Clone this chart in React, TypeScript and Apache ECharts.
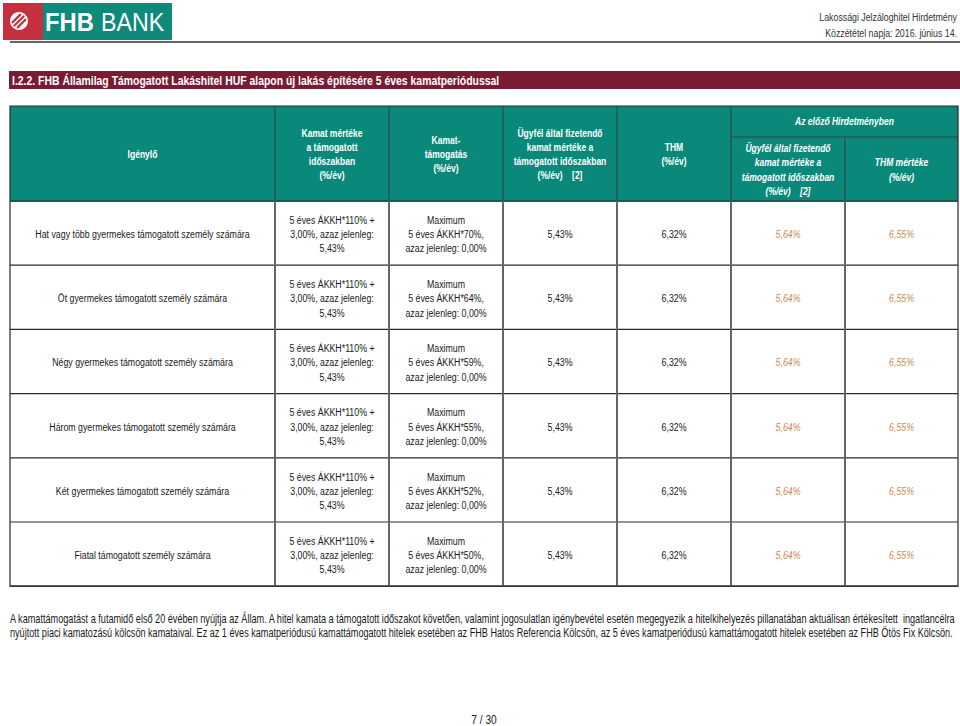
import React, { useEffect, useRef } from "react";
import * as echarts from "echarts";

// ---- data ----
const applicants = [
  "Hat vagy több gyermekes támogatott személy számára",
  "Öt gyermekes támogatott személy számára",
  "Négy gyermekes támogatott személy számára",
  "Három gyermekes támogatott személy számára",
  "Két gyermekes támogatott személy számára",
  "Fiatal támogatott személy számára",
];
const subsidyPercent = [70, 64, 59, 55, 52, 50];
const supportedRate = ["5,43%", "5,43%", "5,43%", "5,43%", "5,43%", "5,43%"];
const subsidyNow = ["0,00%", "0,00%", "0,00%", "0,00%", "0,00%", "0,00%"];
const clientRate = ["5,43%", "5,43%", "5,43%", "5,43%", "5,43%", "5,43%"];
const thm = ["6,32%", "6,32%", "6,32%", "6,32%", "6,32%", "6,32%"];
const prevClientRate = ["5,64%", "5,64%", "5,64%", "5,64%", "5,64%", "5,64%"];
const prevThm = ["6,55%", "6,55%", "6,55%", "6,55%", "6,55%", "6,55%"];

const headerTexts = [
  "Igénylő",
  "Kamat mértéke\na támogatott\nidőszakban\n(%/év)",
  "Kamat-\ntámogatás\n(%/év)",
  "Ügyfél által fizetendő\nkamat mértéke a\ntámogatott időszakban\n(%/év)    [2]",
  "THM\n(%/év)",
];
const prevGroupTitle = "Az előző Hirdetményben";
const prevHeaderTexts = [
  "Ügyfél által fizetendő\nkamat mértéke a\ntámogatott időszakban\n(%/év)    [2]",
  "THM mértéke\n(%/év)",
];
const titleText = "I.2.2. FHB Államilag Támogatott Lakáshitel HUF alapon új lakás építésére 5 éves kamatperiódussal";
const docTitle = "Lakossági Jelzáloghitel Hirdetmény";
const docDate = "Közzététel napja: 2016. június 14.";
const footnotes = [
  "A kamattámogatást a futamidő első 20 évében nyújtja az Állam. A hitel kamata a támogatott időszakot követően, valamint jogosulatlan igénybevétel esetén megegyezik a hitelkihelyezés pillanatában aktuálisan értékesített  ingatlancélra",
  "nyújtott piaci kamatozású kölcsön kamataival. Ez az 1 éves kamatperiódusú kamattámogatott hitelek esetében az FHB Hatos Referencia Kölcsön, az 5 éves kamatperiódusú kamattámogatott hitelek esetében az FHB Ötös Fix Kölcsön.",
];
const pageText = "7 / 30";

// ---- layout ----
const FONT = "'Liberation Sans', Arial, sans-serif";
const colX = [10, 275, 389, 503, 617, 731, 845, 958];
const headTop = 106;
const headBottom = 201;
const subLine = 137;
const rowH = 64.2;
const TEAL = "#0a897b";
const MAROON = "#7a1b34";
const ORANGE = "#c9874f";
const FS = 11.5;
const NARROW = 0.765;
const NARROW_BOLD = 0.74;

function measure(text: string, font: string) {
  const c = document.createElement("canvas").getContext("2d")!;
  c.font = font;
  return c.measureText(text).width;
}

function txt(text: string, x: number, y: number, opts: any = {}) {
  return {
    type: "text",
    silent: true,
    z: 10,
    x,
    y,
    scaleX: opts.scaleX ?? NARROW,
    style: {
      text,
      x: 0,
      y: 0,
      align: opts.align || "center",
      verticalAlign: "middle",
      fontFamily: FONT,
      fontSize: opts.fontSize || FS,
      fontWeight: opts.fontWeight || "normal",
      fontStyle: opts.fontStyle || "normal",
      fill: opts.fill || "#1a1a1a",
      lineHeight: opts.lineHeight || 14.3,
    },
  };
}

function line(x1: number, y1: number, x2: number, y2: number, stroke: string, lineWidth: number) {
  return { type: "line", silent: true, z: 5, shape: { x1, y1, x2, y2 }, style: { stroke, lineWidth } };
}

function buildGraphic() {
  const g: any[] = [];
  // logo
  g.push({ type: "rect", shape: { x: 3, y: 3, width: 40, height: 37 }, style: { fill: "#c5303f" } });
  g.push({ type: "rect", shape: { x: 43, y: 3, width: 129, height: 37 }, style: { fill: "#0e8a7a" } });
  g.push({ type: "circle", shape: { cx: 19, cy: 21, r: 9 }, style: { fill: "#ffffff" } });
  const s = Math.SQRT1_2;
  [-3.6, 0, 3.6].forEach((d) => {
    const cx = 19 + d * s;
    const cy = 21 + d * s;
    const h = Math.sqrt(Math.max(0, 42 - d * d));
    g.push({
      type: "line",
      shape: { x1: cx - h * s, y1: cy + h * s, x2: cx + h * s, y2: cy - h * s },
      style: { stroke: "#c5303f", lineWidth: 2.2, lineCap: "round" },
    });
  });
  g.push({
    type: "text",
    x: 45,
    y: 22,
    scaleX: 0.95,
    style: { text: "FHB", x: 0, y: 0, verticalAlign: "middle", fontFamily: FONT, fontWeight: "bold", fontSize: 25, fill: "#ffffff" },
  });
  g.push({
    type: "text",
    x: 101,
    y: 22,
    scaleX: 0.93,
    style: { text: "BANK", x: 0, y: 0, verticalAlign: "middle", fontFamily: FONT, fontSize: 25, fill: "#ffffff" },
  });
  // header right
  g.push(txt(docTitle, 957, 17, { align: "right", fill: "#333333" }));
  g.push(txt(docDate, 957, 33, { align: "right", fill: "#333333" }));
  g.push(line(10, 42, 960, 42, "#333333", 1.5));

  // title bar
  g.push({ type: "rect", shape: { x: 9, y: 71, width: 951, height: 18 }, style: { fill: MAROON } });
  const titleFont = "bold 12.5px 'Liberation Sans', Arial, sans-serif";
  g.push(
    txt(titleText, 12, 80.5, {
      align: "left",
      fill: "#ffffff",
      fontWeight: "bold",
      fontSize: 12.5,
      scaleX: 488 / measure(titleText, titleFont),
    })
  );

  // header
  g.push({ type: "rect", shape: { x: colX[0], y: headTop, width: colX[7] - colX[0], height: headBottom - headTop }, style: { fill: TEAL } });
  const headMid = (headTop + headBottom) / 2 + 0.5;
  headerTexts.forEach((t, i) => {
    g.push(txt(t, (colX[i] + colX[i + 1]) / 2, headMid, { fill: "#ffffff", fontWeight: "bold", scaleX: NARROW_BOLD }));
  });
  g.push(
    txt(prevGroupTitle, (colX[5] + colX[7]) / 2, 121, { fill: "#ffffff", fontWeight: "bold", fontStyle: "italic", scaleX: NARROW_BOLD })
  );
  const subMid = (subLine + headBottom) / 2 + 0.5;
  prevHeaderTexts.forEach((t, i) => {
    g.push(
      txt(t, (colX[5 + i] + colX[6 + i]) / 2, subMid, { fill: "#ffffff", fontWeight: "bold", fontStyle: "italic", scaleX: NARROW_BOLD })
    );
  });

  // body rows
  applicants.forEach((name, r) => {
    const top = headBottom + r * rowH;
    const mid = top + rowH / 2 + 1;
    const cells = [
      name,
      `5 éves ÁKKH*110% +\n3,00%, azaz jelenleg:\n${supportedRate[r]}`,
      `Maximum\n5 éves ÁKKH*${subsidyPercent[r]}%,\nazaz jelenleg: ${subsidyNow[r]}`,
      clientRate[r],
      thm[r],
      prevClientRate[r],
      prevThm[r],
    ];
    cells.forEach((c, i) => {
      const prev = i >= 5;
      g.push(
        txt(c, (colX[i] + colX[i + 1]) / 2, mid, {
          fill: prev ? ORANGE : "#1a1a1a",
          fontStyle: prev ? "italic" : "normal",
        })
      );
    });
    g.push(line(colX[0], top + rowH, colX[7], top + rowH, "#2a2a2a", 1.2));
  });
  const tableBottom = headBottom + applicants.length * rowH;

  // header grid lines
  for (let i = 1; i < 7; i++) {
    const y1 = i === 6 ? subLine : headTop;
    g.push(line(colX[i], y1, colX[i], headBottom, "#2b4a45", 1.2));
  }
  g.push(line(colX[5], subLine, colX[7], subLine, "#2b4a45", 1.2));
  g.push(line(colX[0], headBottom, colX[7], headBottom, "#1c5a52", 2));
  // body vertical lines
  for (let i = 1; i < 7; i++) {
    g.push(line(colX[i], headBottom, colX[i], tableBottom, "#666666", 2));
  }
  // outer border
  g.push({
    type: "rect",
    silent: true,
    z: 6,
    shape: { x: colX[0], y: headTop, width: colX[7] - colX[0], height: tableBottom - headTop },
    style: { fill: "none", stroke: "#2a2a2a", lineWidth: 1.2 },
  });

  // footnotes
  const fnFont = "12px 'Liberation Sans', Arial, sans-serif";
  const fnWidths = [947, 944];
  footnotes.forEach((f, i) => {
    g.push(
      txt(f, 10, 618 + i * 14.5, { align: "left", fill: "#1a1a1a", fontSize: 12, scaleX: fnWidths[i] / measure(f, fnFont) })
    );
  });
  g.push(txt(pageText, 484, 720, { fill: "#1a1a1a", fontSize: 12, scaleX: 0.85 }));
  return g;
}

export default function App() {
  const ref = useRef<HTMLDivElement>(null);
  useEffect(() => {
    document.body.style.margin = "0";
    const chart = echarts.init(ref.current!, undefined, { renderer: "svg" });
    chart.setOption({
      animation: false,
      backgroundColor: "#ffffff",
      graphic: buildGraphic(),
    });
    return () => chart.dispose();
  }, []);
  return <div ref={ref} style={{ width: 960, height: 726 }} />;
}
